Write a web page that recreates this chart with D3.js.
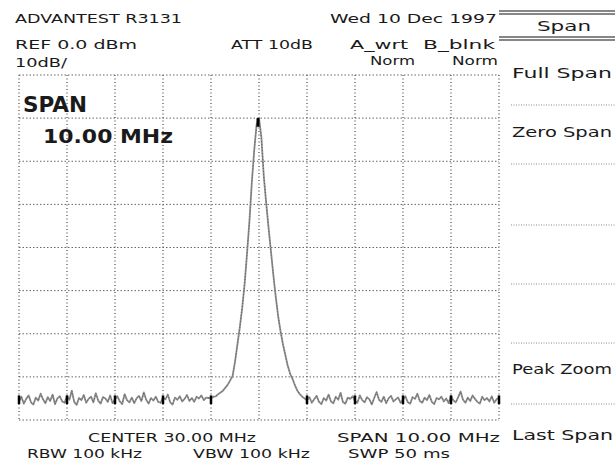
<!DOCTYPE html>
<html>
<head>
<meta charset="utf-8">
<script src="https://cdn.jsdelivr.net/npm/d3@7"></script>
<style>
html,body{margin:0;padding:0;background:#fff;}
svg{display:block;}
text{font-family:"DejaVu Sans","Liberation Sans",sans-serif;fill:#1a1a1a;}
</style>
</head>
<body>
<svg id="chart" width="615" height="468"></svg>
<script>
// ---- data ----
const startFreq = 25.0;      // MHz
const stepFreq = 0.05;       // MHz per trace point
const xTicks = [25,26,27,28,29,30,31,32,33,34,35];
const yTicks = [0,-10,-20,-30,-40,-50,-60,-70,-80];
const traceDbm = [
 -75.8,-74.6,-76.2,-75.1,-74.3,-75.9,-76.4,-74.8,-75.5,-73.9,-75.2,-76.1,-74.7,-75.6,-74.1,-76.3,-75.0,-74.5,-75.7,-76.0,
 -74.4,-75.3,-73.2,-75.8,-76.5,-74.9,-75.4,-74.2,-76.0,-75.1,-74.6,-75.9,-73.8,-75.5,-76.2,-74.7,-75.0,-75.8,-74.3,-76.1,
 -75.2,-74.5,-75.7,-76.3,-74.0,-75.4,-75.9,-74.8,-76.1,-75.0,-74.4,-75.6,-73.6,-75.3,-76.2,-74.9,-75.5,-74.6,-75.8,-76.0,
 -74.7,-75.2,-74.1,-75.9,-76.4,-74.8,-75.3,-74.5,-75.7,-75.1,-74.2,-75.6,-74.9,-75.8,-74.6,-75.0,-74.3,-75.4,-74.8,-74.9,
 -75.0,-74.6,-74.5,-74.0,-73.6,-73.2,-72.5,-71.8,-70.8,-69.8,-66.5,-62.5,-58.5,-54.0,-48.5,-41.5,-34.0,-25.0,-17.5,-11.5,
 -10.0,-14.5,-23.5,-29.7,-35.5,-41.0,-46.5,-51.5,-56.0,-59.5,-62.5,-65.0,-67.5,-69.3,-70.5,-72.0,-73.2,-74.0,-74.6,-75.0,
 -75.4,-74.7,-76.0,-75.2,-74.4,-75.8,-76.3,-74.9,-75.5,-74.1,-75.7,-76.1,-74.6,-75.3,-73.7,-75.9,-76.2,-74.8,-75.1,-74.5,
 -75.6,-76.0,-74.3,-75.4,-75.9,-74.7,-75.2,-76.4,-74.9,-73.5,-75.3,-75.8,-74.6,-76.1,-75.0,-74.4,-75.7,-75.2,-74.8,-76.0,
 -75.3,-74.5,-75.9,-76.2,-74.7,-75.1,-73.9,-75.6,-76.0,-74.8,-75.4,-74.2,-75.8,-76.3,-74.9,-75.2,-74.6,-75.7,-75.0,-76.1,
 -74.4,-75.5,-75.9,-74.7,-73.4,-75.3,-76.0,-74.8,-75.6,-74.3,-75.1,-75.8,-76.2,-74.6,-75.4,-74.9,-75.7,-74.5,-76.0,-75.2,-74.8
];
const floorMarkFreqs = [25,26,27,28,29,31,32,33,34,35];
const floorMarkDbm = -75.3;
const peakFreq = 30.0, peakDbm = -10.0;
const headerTexts = ["ADVANTEST R3131","Wed 10 Dec 1997","REF 0.0 dBm","ATT 10dB","A_wrt","B_blnk","10dB/","Norm","Norm"];
const footerTexts = ["CENTER 30.00 MHz","SPAN 10.00 MHz","RBW 100 kHz","VBW 100 kHz","SWP 50 ms"];
const softTitle = "Span";
const softKeys = ["Full Span","Zero Span","","","","Peak Zoom","Last Span"];
const spanLabel = ["SPAN","10.00 MHz"];

// ---- layout ----
const svg = d3.select("#chart");
const x = d3.scaleLinear().domain([25,35]).range([19,499]);
const y = d3.scaleLinear().domain([0,-80]).range([75,420]);

const g = svg.append("g");
// grid
g.selectAll("line.v").data(xTicks).join("line")
  .attr("x1",d=>x(d)).attr("x2",d=>x(d)).attr("y1",y(0)).attr("y2",y(-80))
  .attr("stroke","#222").attr("stroke-width",1).attr("stroke-dasharray","1,2.5");
g.selectAll("line.h").data(yTicks).join("line")
  .attr("y1",d=>y(d)).attr("y2",d=>y(d)).attr("x1",x(25)).attr("x2",x(35))
  .attr("stroke","#666").attr("stroke-width",1).attr("stroke-dasharray","1.5,2");

// trace
const pts = traceDbm.map((v,i)=>[startFreq+i*stepFreq, v]);
const line = d3.line().x(d=>x(d[0])).y(d=>y(d[1]));
g.append("path").datum(pts).attr("d",line)
  .attr("fill","none").attr("stroke","#8e8e8e").attr("stroke-width",1.8)
  .attr("stroke-linejoin","round");
g.append("path").datum(pts).attr("d",line)
  .attr("fill","none").attr("stroke","#555").attr("stroke-width",0.8)
  .attr("stroke-dasharray","1,2");

// floor marks
g.selectAll("line.fm").data(floorMarkFreqs).join("line")
  .attr("x1",d=>x(d)).attr("x2",d=>x(d))
  .attr("y1",y(floorMarkDbm+1)).attr("y2",y(floorMarkDbm-1))
  .attr("stroke","#000").attr("stroke-width",2.5);
// peak marker
g.append("line").attr("x1",x(peakFreq)-1).attr("x2",x(peakFreq)-1)
  .attr("y1",y(peakDbm)).attr("y2",y(peakDbm-2))
  .attr("stroke","#000").attr("stroke-width",3);

// header texts
function txt(s,x0,yb,len,size,anchor,weight){
  const t = svg.append("text").attr("x",x0).attr("y",yb).text(s)
    .attr("font-size",size).attr("text-anchor",anchor||"start");
  if(weight) t.attr("font-weight",weight);
  if(len){ t.attr("textLength",len).attr("lengthAdjust","spacingAndGlyphs"); }
  return t;
}
const hs = 13;
txt(headerTexts[0],15,23,167,hs);
txt(headerTexts[1],330,23,167,hs);
txt(headerTexts[2],15,49,122,hs);
txt(headerTexts[3],231,49,82,hs);
txt(headerTexts[4],350,49,58,hs);
txt(headerTexts[5],423,49,72,hs);
txt(headerTexts[6],15,67,52,12);
txt(headerTexts[7],370,65,45,hs);
txt(headerTexts[8],452,65,46,hs);

// footer
txt(footerTexts[0],88,442,168,hs);
txt(footerTexts[1],337,442,163,hs);
txt(footerTexts[2],27,458,115,hs);
txt(footerTexts[3],193,458,117,hs);
txt(footerTexts[4],348,458,102,hs);

// span label inside grid
txt(spanLabel[0],23,112,64,21,"start","bold");
txt(spanLabel[1],43,143,130,20,"start","bold");

// soft key panel
const sk = svg.append("g");
[11,14,37,40].forEach(yy=>{
  sk.append("line").attr("x1",499).attr("x2",615).attr("y1",yy).attr("y2",yy)
    .attr("stroke","#111").attr("stroke-width",1.2);
});
txt(softTitle,537,31,54,14,"start");
const keyY = [78,137,null,null,null,374,440];
const keyLen = [100,100,0,0,0,100,101];
softKeys.forEach((k,i)=>{
  if(k) txt(k,512,keyY[i],keyLen[i],14);
});
const sepY = [105,164,225,284,343,404];
sk.selectAll("line.sep").data(sepY).join("line")
  .attr("x1",511).attr("x2",615).attr("y1",d=>d).attr("y2",d=>d)
  .attr("stroke","#888").attr("stroke-width",1).attr("stroke-dasharray","1,1.5");
</script>
</body>
</html>
